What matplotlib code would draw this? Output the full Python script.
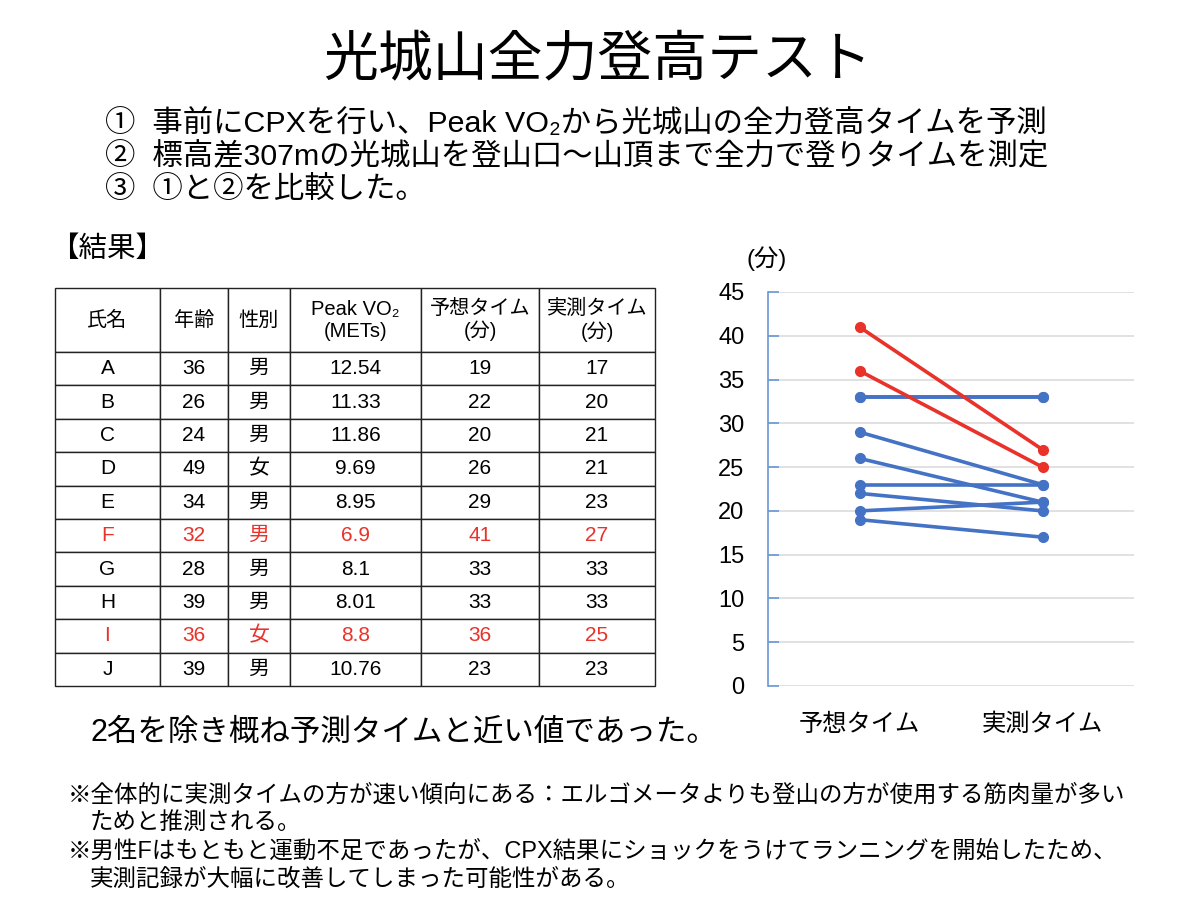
import numpy as np
import matplotlib
matplotlib.use("Agg")
import matplotlib.pyplot as plt

plt.rcParams['font.family'] = ['Liberation Sans', 'Noto Sans CJK JP', 'DejaVu Sans']

# ---- データ
names = ['A', 'B', 'C', 'D', 'E', 'F', 'G', 'H', 'I', 'J']
ages = [36, 26, 24, 49, 34, 32, 28, 39, 36, 39]
sexes = ['男', '男', '男', '女', '男', '男', '男', '男', '女', '男']
peak_vo2 = ['12.54', '11.33', '11.86', '9.69', '8.95', '6.9', '8.1', '8.01', '8.8', '10.76']
predicted = [19, 22, 20, 26, 29, 41, 33, 33, 36, 23]
measured = [17, 20, 21, 21, 23, 27, 33, 33, 25, 23]
highlight = ['F', 'I']

headers = ['氏名', '年齢', '性別', 'Peak VO₂\n(METs)', '予想タイム\n(分)', '実測タイム\n(分)']
categories = ['予想タイム', '実測タイム']
yticks = [0, 5, 10, 15, 20, 25, 30, 35, 40, 45]

blue = '#4472C4'
red = '#E8322A'

W, H = 1200, 899
fig = plt.figure(figsize=(W / 100, H / 100), dpi=100)
fig.patch.set_facecolor('white')

# ---- 全体のテキスト (ピクセル座標)
bg = fig.add_axes([0, 0, 1, 1])
bg.set_xlim(0, W)
bg.set_ylim(H, 0)
bg.axis('off')

bg.text(598, 62, '光城山全力登高テスト', fontsize=39.5, ha='center', va='center')
bg.text(105, 124, '①  事前にCPXを行い、Peak VO₂から光城山の全力登高タイムを予測',
        fontsize=21.9, ha='left', va='center')
bg.text(105, 157, '②  標高差307mの光城山を登山口〜山頂まで全力で登りタイムを測定',
        fontsize=21.9, ha='left', va='center')
bg.text(105, 190, '③  ①と②を比較した。', fontsize=21.9, ha='left', va='center')
bg.text(50, 250, '【結果】', fontsize=20.5, ha='left', va='center')
bg.text(767, 259, '(分)', fontsize=17.5, ha='center', va='center')
bg.text(90, 733, '2名を除き概ね予測タイムと近い値であった。', fontsize=22, ha='left', va='center')

notes = [
    (68, 795, '※全体的に実測タイムの方が速い傾向にある：エルゴメータよりも登山の方が使用する筋肉量が多い'),
    (90, 822, 'ためと推測される。'),
    (68, 851, '※男性Fはもともと運動不足であったが、CPX結果にショックをうけてランニングを開始したため、'),
    (90, 879, '実測記録が大幅に改善してしまった可能性がある。'),
]
for x, y, s in notes:
    bg.text(x, y, s, fontsize=16.9, ha='left', va='center')

# ---- 表
tab_ax = fig.add_axes([55 / W, 1 - 686 / H, 600 / W, 398 / H])
tab_ax.axis('off')
rows = [[n, str(a), s, v, str(p), str(m)]
        for n, a, s, v, p, m in zip(names, ages, sexes, peak_vo2, predicted, measured)]
col_w = np.array([105, 68, 62, 131, 118, 116]) / 600
tbl = tab_ax.table(cellText=rows, colLabels=headers, colWidths=list(col_w),
                   cellLoc='center', bbox=[0, 0, 1, 1])
tbl.auto_set_font_size(False)
tbl.set_fontsize(15)
for (r, c), cell in tbl.get_celld().items():
    cell.set_edgecolor('#222222')
    cell.set_linewidth(1.0)
    if r == 0:
        cell.set_height(cell.get_height() * 1.92)
        cell.get_text().set_linespacing(1.2)
        cell.get_text().set_fontsize(14.5)
    elif names[r - 1] in highlight:
        cell.get_text().set_color(red)

# ---- 折れ線グラフ
ax = fig.add_axes([768 / W, 1 - 686 / H, 366 / W, 394 / H])
x = np.arange(len(categories))
for i, n in enumerate(names):
    if n in highlight:
        continue
    ax.plot(x, [predicted[i], measured[i]], color=blue, lw=2.6,
            marker='o', ms=7, solid_capstyle='round', zorder=3)
for i, n in enumerate(names):
    if n not in highlight:
        continue
    ax.plot(x, [predicted[i], measured[i]], color=red, lw=2.6,
            marker='o', ms=7, solid_capstyle='round', zorder=4)

ax.set_xlim(-0.5, 1.5)
ax.set_ylim(0, 45)
ax.set_yticks(yticks)
ax.set_xticks(x)
ax.set_xticklabels(categories, fontsize=17.5)
ax.tick_params(axis='x', length=0, pad=20)
ax.tick_params(axis='y', direction='in', length=8, width=1.2, color='#6A96D6',
               labelsize=17, pad=17)
ax.yaxis.grid(True, color='#DCDCDC', lw=1.2)
ax.set_axisbelow(True)
for s in ['top', 'right', 'bottom']:
    ax.spines[s].set_visible(False)
ax.spines['left'].set_color('#6A96D6')
ax.spines['left'].set_linewidth(1.2)

fig.savefig('out.png', dpi=100, facecolor='white')
